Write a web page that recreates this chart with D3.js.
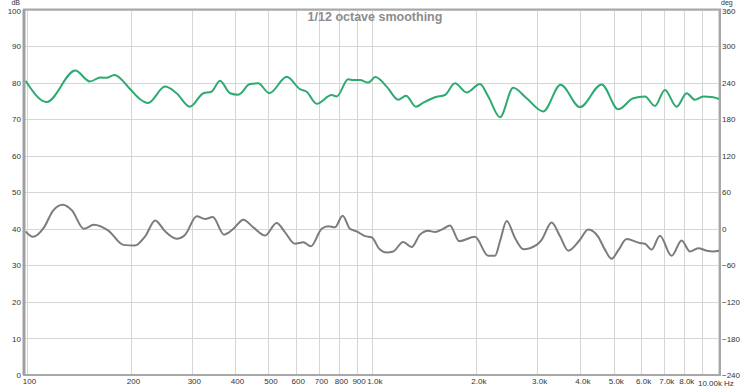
<!DOCTYPE html>
<html>
<head>
<meta charset="utf-8">
<script src="https://cdn.jsdelivr.net/npm/d3@7"></script>
<style>
  body { margin: 0; background: #fff; }
  svg { display: block; font-family: "Liberation Sans", Arial, sans-serif; }
  .grid line { stroke: #d6d6d6; stroke-width: 1; shape-rendering: crispEdges; }
  .grid path { display: none; }
  .lbl text { fill: #333; font-size: 8px; }
</style>
</head>
<body>
<div class="grafico"></div>
<script>
// Datos
var titulo = "1/12 octave smoothing";

// Curva verde (dB)
var verdeFreq = [99, 114, 138, 152, 163, 170, 179, 199, 212, 224, 251, 271, 296, 324, 342, 362, 387, 409, 442, 467, 503, 565, 617, 645, 690, 762, 788, 851, 880, 920, 973, 1020, 1100, 1188, 1251, 1337, 1404, 1518, 1622, 1734, 1875, 2048, 2165, 2341, 2557, 2796, 3123, 3508, 3990, 4611, 5150, 5690, 6153, 6578, 7031, 7601, 8126, 8588, 9076, 9703, 10100];
var verdeDb = [80.5, 74.7, 83.3, 80.3, 81.4, 81.3, 82.1, 78.2, 75.5, 74.4, 78.9, 77.1, 73.4, 77.1, 77.5, 80.5, 77.1, 76.7, 79.6, 79.8, 77.1, 81.6, 78.2, 77.5, 74.2, 76.6, 76.2, 80.9, 80.7, 80.7, 80.0, 81.5, 78.9, 75.3, 76.4, 73.4, 74.5, 76.0, 76.6, 79.8, 77.3, 79.6, 76.2, 70.5, 78.6, 75.7, 72.1, 79.4, 73.3, 79.5, 72.7, 75.7, 76.2, 73.6, 78.0, 73.4, 77.1, 75.3, 76.2, 76.0, 75.5];

// Curva gris (dB)
var grisFreq = [99, 104, 112, 119, 127, 135, 146, 156, 172, 190, 205, 220, 235, 251, 271, 287, 310, 328, 345, 372, 396, 423, 452, 489, 528, 558, 597, 631, 663, 713, 745, 779, 820, 861, 900, 952, 995, 1047, 1100, 1149, 1228, 1299, 1373, 1451, 1518, 1604, 1677, 1784, 1981, 2165, 2264, 2341, 2448, 2587, 2734, 2989, 3090, 3304, 3491, 3690, 3990, 4217, 4507, 4713, 4928, 5150, 5446, 5950, 6153, 6434, 6800, 7352, 7860, 8307, 8778, 9283, 9703, 10100];
var grisDb = [39.3, 37.8, 40.4, 45.0, 46.6, 45.0, 40.0, 41.1, 39.5, 35.6, 35.4, 38.0, 42.3, 39.3, 37.3, 38.4, 43.4, 42.7, 43.2, 38.4, 40.0, 42.5, 40.4, 38.2, 41.6, 39.1, 35.9, 36.3, 35.2, 40.0, 40.7, 40.4, 43.6, 40.0, 39.3, 38.0, 37.7, 34.5, 33.5, 33.8, 36.4, 35.0, 38.4, 39.5, 39.1, 40.0, 40.9, 36.6, 37.8, 32.6, 32.6, 36.6, 42.1, 37.5, 34.4, 35.6, 37.0, 41.7, 38.0, 34.0, 37.0, 39.8, 37.8, 34.3, 31.8, 34.1, 37.2, 36.1, 35.9, 34.3, 38.1, 32.6, 36.8, 33.8, 34.7, 34.0, 33.8, 34.0];

// Marcas de los ejes
var ticksDb = [0, 10, 20, 30, 40, 50, 60, 70, 80, 90, 100];
var ticksDeg = [-240, -180, -120, -60, 0, 60, 120, 180, 240, 300, 360];
var gridFreq = [100, 200, 300, 400, 500, 600, 700, 800, 900, 1000, 2000, 3000, 4000, 5000, 6000, 7000, 8000, 9000, 10000];
var ticksFreq = [100, 200, 300, 400, 500, 600, 700, 800, 900, 1000, 2000, 3000, 4000, 5000, 6000, 7000, 8000];
var etiquetasFreq = ["100", "200", "300", "400", "500", "600", "700", "800", "900", "1.0k", "2.0k", "3.0k", "4.0k", "5.0k", "6.0k", "7.0k", "8.0k"];

var W = 750, H = 389;
var izq = 24, der = 720, arriba = 9.5, abajo = 375;

var svg = d3.select(".grafico").append("svg")
    .attr("width", W)
    .attr("height", H);

svg.append("rect").attr("width", W).attr("height", H).attr("fill", "#fff");

// Escalas
var x = d3.scaleLog().domain([98, 10150]).range([izq, der]);
var y = d3.scaleLinear().domain([0, 100]).range([abajo, arriba]);
var y2 = d3.scaleLinear().domain([-240, 360]).range([abajo, arriba]);

// Rejilla horizontal
svg.append("g")
    .attr("class", "grid")
    .attr("transform", "translate(" + izq + ",0)")
    .call(d3.axisLeft(y).tickValues(ticksDb).tickSize(-(der - izq)).tickFormat(""));

// Rejilla vertical
svg.append("g")
    .attr("class", "grid")
    .attr("transform", "translate(0," + abajo + ")")
    .call(d3.axisBottom(x).tickValues(gridFreq).tickSize(-(abajo - arriba)).tickFormat(""));

// Curvas
var linea = d3.line()
    .x(function(d) { return x(d[0]); })
    .y(function(d) { return y(d[1]); })
    .curve(d3.curveMonotoneX);

svg.append("path")
    .datum(grisFreq.map(function(f, i) { return [f, grisDb[i]]; }))
    .attr("fill", "none")
    .attr("stroke", "#7c7c7c")
    .attr("stroke-width", 2)
    .attr("d", linea);

svg.append("path")
    .datum(verdeFreq.map(function(f, i) { return [f, verdeDb[i]]; }))
    .attr("fill", "none")
    .attr("stroke", "#2daa70")
    .attr("stroke-width", 2)
    .attr("d", linea);

// Marco
svg.append("rect")
    .attr("x", izq).attr("y", arriba)
    .attr("width", der - izq).attr("height", abajo - arriba)
    .attr("fill", "none")
    .attr("stroke", "#a8a8a8")
    .attr("stroke-width", 2);
svg.append("line")
    .attr("x1", izq).attr("x2", izq).attr("y1", arriba).attr("y2", abajo)
    .attr("stroke", "#a0a0a0").attr("stroke-width", 3);

// Ejes con etiquetas
var ejeIzq = svg.append("g").attr("class", "lbl")
    .attr("transform", "translate(" + (izq - 2) + ",0)")
    .call(d3.axisLeft(y).tickValues(ticksDb).tickSize(0).tickPadding(1));
ejeIzq.select(".domain").remove();
ejeIzq.selectAll("text").attr("dy", function(d) { return d === 100 ? "0.55em" : "0.32em"; });

var ejeDer = svg.append("g").attr("class", "lbl")
    .attr("transform", "translate(" + (der + 1) + ",0)")
    .call(d3.axisRight(y2).tickValues(ticksDeg).tickSize(0).tickPadding(1));
ejeDer.select(".domain").remove();
ejeDer.selectAll("text").attr("dy", function(d) { return d === 360 ? "0.55em" : "0.32em"; });

var ejeX = svg.append("g").attr("class", "lbl")
    .attr("transform", "translate(0," + (abajo + 2) + ")")
    .call(d3.axisBottom(x).tickValues(ticksFreq).tickSize(0).tickPadding(1)
        .tickFormat(function(d, i) { return etiquetasFreq[i]; }));
ejeX.select(".domain").remove();
ejeX.selectAll("text").attr("dx", 2);

svg.append("text").attr("x", 722).attr("y", 386)
    .attr("text-anchor", "end").attr("font-size", 8).attr("fill", "#333")
    .text("10.00k");
svg.append("text").attr("x", 724).attr("y", 386)
    .attr("font-size", 8).attr("fill", "#333").text("Hz");

// Unidades
svg.append("text").attr("x", 20).attr("y", 5)
    .attr("text-anchor", "end").attr("font-size", 7).attr("fill", "#333").text("dB");
svg.append("text").attr("x", 721).attr("y", 5)
    .attr("font-size", 7).attr("fill", "#333").text("deg");

// Título
svg.append("text")
    .attr("x", 375).attr("y", 21)
    .attr("text-anchor", "middle")
    .attr("font-size", 12.5)
    .attr("font-weight", "bold")
    .attr("fill", "#8c8c8c")
    .text(titulo);
</script>
</body>
</html>
